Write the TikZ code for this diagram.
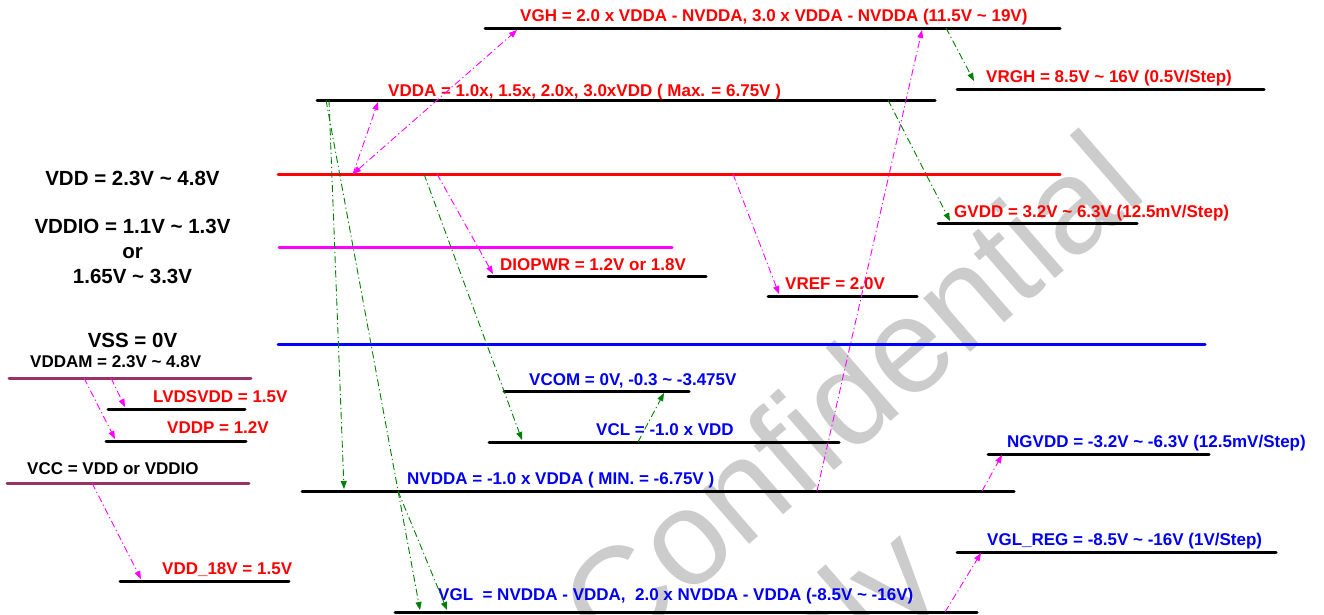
\documentclass[tikz,border=0pt]{standalone}
\usepackage{fontspec}
\setmainfont{Liberation Sans}
\usetikzlibrary{arrows.meta}
\definecolor{lblred}{RGB}{255,0,0}
\definecolor{lblblue}{RGB}{0,0,240}
\definecolor{lmag}{RGB}{255,0,255}
\definecolor{lgreen}{RGB}{0,128,0}
\definecolor{lmaroon}{RGB}{153,51,102}
\definecolor{wmark}{RGB}{204,204,204}
\begin{document}
\begin{tikzpicture}[x=1pt,y=-1pt,
  lvl/.style={line width=3pt, line cap=round},
  lbl/.style={anchor=base west, inner sep=0pt, font=\fontsize{17}{20}\selectfont\bfseries},
  big/.style={align=center, inner sep=0pt, font=\fontsize{20.5}{25}\selectfont\bfseries},
  wm/.style={anchor=base west, inner sep=0pt, rotate=41, text=wmark, font=\fontsize{135}{140}\selectfont},
  conn/.style={line width=0.9pt, dash pattern=on 7pt off 3pt on 1.2pt off 3pt, -{Triangle[length=8pt,width=6pt]}},
  mg/.style={conn, draw=lmag},
  gr/.style={conn, draw=lgreen}]
\useasboundingbox (0,0) rectangle (1324,614);
\clip (0,0) rectangle (1324,614);
\fill[white] (0,0) rectangle (1324,614);
% watermark
\node[wm] (wm1) at (612,664) {Confidential};
\node[wm] (wm2) at (738,771) {Only};
% level lines
\draw[lvl] (485,28) coordinate (vghL) -- (1060,28) coordinate (vghR);
\draw[lvl] (957,89) coordinate (vrghL) -- (1264,89) coordinate (vrghR);
\draw[lvl] (317,100) coordinate (vddaL) -- (935,100) coordinate (vddaR);
\draw[lvl, lblred] (278,174) coordinate (vddL) -- (1060,174) coordinate (vddR);
\draw[lvl] (938,223) coordinate (gvddL) -- (1137,223) coordinate (gvddR);
\draw[lvl, lmag] (279,247) coordinate (vddioL) -- (672,247) coordinate (vddioR);
\draw[lvl] (488,276) coordinate (diopL) -- (706,276) coordinate (diopR);
\draw[lvl] (768,296) coordinate (vrefL) -- (917,296) coordinate (vrefR);
\draw[lvl, blue] (278,344) coordinate (vssL) -- (1205,344) coordinate (vssR);
\draw[lvl, lmaroon] (9,378) coordinate (vddamL) -- (251,378) coordinate (vddamR);
\draw[lvl] (108,409) coordinate (lvdsL) -- (245,409) coordinate (lvdsR);
\draw[lvl] (106,441) coordinate (vddpL) -- (246,441) coordinate (vddpR);
\draw[lvl, lmaroon] (7,483) coordinate (vccL) -- (249,483) coordinate (vccR);
\draw[lvl] (120,581) coordinate (v18L) -- (289,581) coordinate (v18R);
\draw[lvl] (504,391) coordinate (vcomL) -- (689,391) coordinate (vcomR);
\draw[lvl] (489,442) coordinate (vclL) -- (839,442) coordinate (vclR);
\draw[lvl] (302,491) coordinate (nvddaL) -- (1014,491) coordinate (nvddaR);
\draw[lvl] (988,454) coordinate (ngvddL) -- (1209,454) coordinate (ngvddR);
\draw[lvl] (957,552) coordinate (vglregL) -- (1276,552) coordinate (vglregR);
\draw[lvl] (395,612) coordinate (vglL) -- (977,612) coordinate (vglR);
% labels
\node[lbl, text=lblred] (tvgh) at (520,21) {VGH = 2.0 x VDDA - NVDDA, 3.0 x VDDA - NVDDA (11.5V \textasciitilde{} 19V)};
\node[lbl, text=lblred] (tvrgh) at (986,82) {VRGH = 8.5V \textasciitilde{} 16V (0.5V/Step)};
\node[lbl, text=lblred] (tvdda) at (388,96) {VDDA = 1.0x, 1.5x, 2.0x, 3.0xVDD ( Max. = 6.75V )};
\node[lbl, text=lblred] (tgvdd) at (954,217) {GVDD = 3.2V \textasciitilde{} 6.3V (12.5mV/Step)};
\node[lbl, text=lblred] (tdiop) at (500,270) {DIOPWR = 1.2V or 1.8V};
\node[lbl, text=lblred] (tvref) at (785,289) {VREF = 2.0V};
\node[lbl, text=lblblue] (tvcom) at (529,385) {VCOM = 0V, -0.3 \textasciitilde{} -3.475V};
\node[lbl, text=lblblue] (tvcl) at (596,435) {VCL = -1.0 x VDD};
\node[lbl, text=lblblue] (tnvdda) at (407,484) {NVDDA = -1.0 x VDDA ( MIN. = -6.75V )};
\node[lbl, text=lblblue] (tngvdd) at (1007,447) {NGVDD = -3.2V \textasciitilde{} -6.3V (12.5mV/Step)};
\node[lbl, text=lblblue] (tvglreg) at (987,545) {VGL\_REG = -8.5V \textasciitilde{} -16V (1V/Step)};
\node[lbl, text=lblblue] (tvgl) at (438,600) {VGL\ \ = NVDDA - VDDA,\ \ 2.0 x NVDDA - VDDA (-8.5V \textasciitilde{} -16V)};
\node[lbl] (tvddam) at (30,367) {VDDAM = 2.3V \textasciitilde{} 4.8V};
\node[lbl, text=lblred] (tlvds) at (153,402) {LVDSVDD = 1.5V};
\node[lbl, text=lblred] (tvddp) at (167,433) {VDDP = 1.2V};
\node[lbl] (tvcc) at (27,474) {VCC = VDD or VDDIO};
\node[lbl, text=lblred] (tv18) at (162,574) {VDD\_18V = 1.5V};
\node[big, anchor=base] (tvdd) at (132.5,185) {VDD = 2.3V \textasciitilde{} 4.8V};
\node[big, anchor=base] (tvddio1) at (132.5,233) {VDDIO = 1.1V \textasciitilde{} 1.3V};
\node[big, anchor=base] (tvddio2) at (132.5,258) {or};
\node[big, anchor=base] (tvddio3) at (132.5,283) {1.65V \textasciitilde{} 3.3V};
\node[big, anchor=base] (tvss) at (132.5,347) {VSS = 0V};
% connector end points
\coordinate (m1a) at (353,174); \coordinate (m1b) at (378,102);
\coordinate (m2b) at (517,30);
\coordinate (m3a) at (437,174); \coordinate (m3b) at (493,274);
\coordinate (m4a) at (733,174); \coordinate (m4b) at (779,294);
\coordinate (m5a) at (817,491); \coordinate (m5b) at (922,30);
\coordinate (m6a) at (982,491); \coordinate (m6b) at (1002,455);
\coordinate (m7a) at (945,612); \coordinate (m7b) at (981,553);
\coordinate (m8a) at (84,378); \coordinate (m8b) at (115,439);
\coordinate (m9a) at (111,378); \coordinate (m9b) at (125,407);
\coordinate (m10a) at (92,483); \coordinate (m10b) at (141,579);
\coordinate (g1a) at (329,100); \coordinate (g1b) at (344,489);
\coordinate (g2a) at (326,100); \coordinate (g2b) at (420,610);
\coordinate (g3a) at (398,491); \coordinate (g3b) at (447,610);
\coordinate (g4a) at (424,174); \coordinate (g4b) at (522,440);
\coordinate (g5a) at (638,442); \coordinate (g5b) at (664,393);
\coordinate (g6a) at (888,100); \coordinate (g6b) at (950,221);
\coordinate (g7a) at (946,28); \coordinate (g7b) at (974,81);
% connectors
\draw[mg] (m1a) -- (m1b);
\draw[mg, {Triangle[length=8pt,width=6pt]}-{Triangle[length=8pt,width=6pt]}] (m1a) -- (m2b);
\draw[mg] (m3a) -- (m3b);
\draw[mg] (m4a) -- (m4b);
\draw[mg] (m5a) -- (m5b);
\draw[mg] (m6a) -- (m6b);
\draw[mg] (m7a) -- (m7b);
\draw[mg] (m8a) -- (m8b);
\draw[mg] (m9a) -- (m9b);
\draw[mg] (m10a) -- (m10b);
\draw[gr] (g1a) -- (g1b);
\draw[gr] (g2a) -- (g2b);
\draw[gr] (g3a) -- (g3b);
\draw[gr] (g4a) -- (g4b);
\draw[gr] (g5a) -- (g5b);
\draw[gr] (g6a) -- (g6b);
\draw[gr] (g7a) -- (g7b);
\end{tikzpicture}
\end{document}
